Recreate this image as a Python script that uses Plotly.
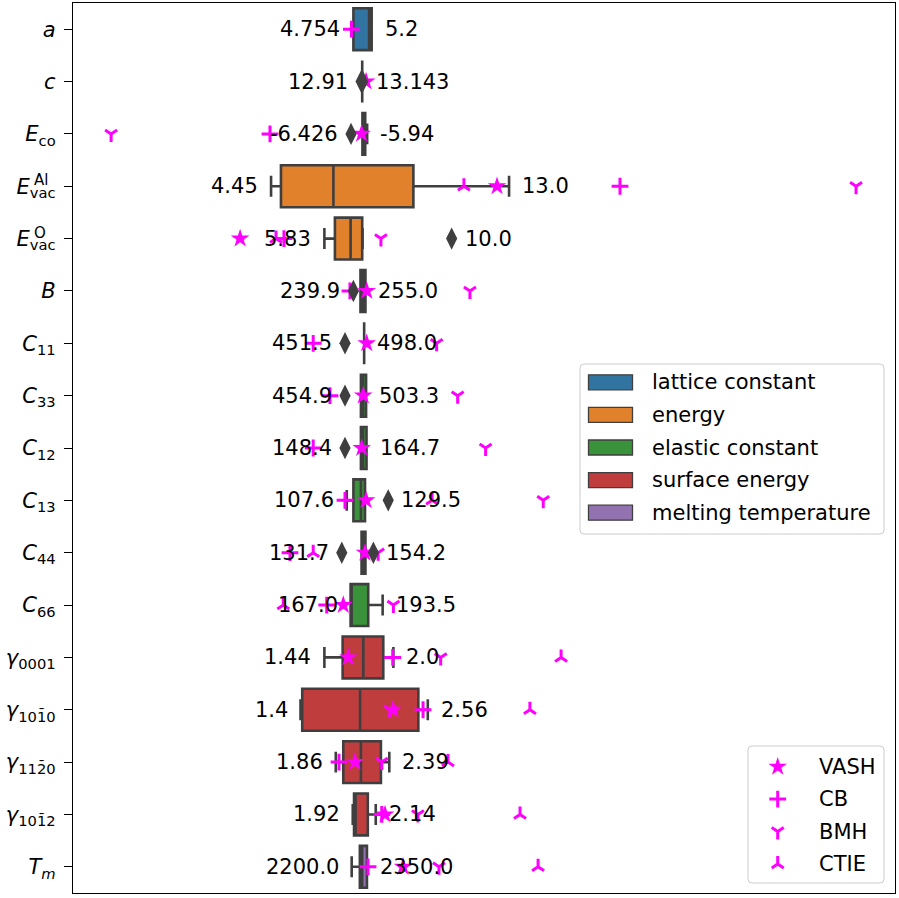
import plotly.graph_objects as go

# ---- rows (top to bottom) ---------------------------------------------------
tick_labels = [
    "<i>a</i>", "<i>c</i>", "<i>E</i><sub>co</sub>", "<i>E</i><sub>vac</sub>",
    "<i>E</i><sub>vac</sub>", "<i>B</i>", "<i>C</i><sub>11</sub>", "<i>C</i><sub>33</sub>",
    "<i>C</i><sub>12</sub>", "<i>C</i><sub>13</sub>", "<i>C</i><sub>44</sub>",
    "<i>C</i><sub>66</sub>", "<i>γ</i><sub>0001</sub>", "<i>γ</i><sub>101\u03040</sub>",
    "<i>γ</i><sub>112\u03040</sub>", "<i>γ</i><sub>101\u03042</sub>", "<i>T</i><sub><i>m</i></sub>",
]
superscripts = {3: "Al", 4: "O"}
groups = [
    "lattice constant", "lattice constant", "energy", "energy", "energy",
    "elastic constant", "elastic constant", "elastic constant", "elastic constant",
    "elastic constant", "elastic constant", "elastic constant",
    "surface energy", "surface energy", "surface energy", "surface energy",
    "melting temperature",
]
group_names = ["lattice constant", "energy", "elastic constant", "surface energy",
               "melting temperature"]
group_colors = ["#3274a1", "#e1812c", "#3a923a", "#c03d3e", "#9372b2"]

# ---- reference data: relative deviation from the reference value ------------
q1 = [-0.040, 0.001, 0.002, -0.377, -0.126, -0.007, 0.010, -0.005, -0.005, -0.040,
      -0.002, -0.053, -0.090, -0.278, -0.087, -0.037, -0.010]
median = [0.033, 0.001, 0.009, -0.133, -0.053, 0.005, 0.010, 0.005, 0.005, -0.005,
          0.005, -0.049, 0.006, -0.009, -0.005, -0.030, 0.001]
q3 = [0.045, 0.001, 0.015, 0.239, 0.001, 0.016, 0.010, 0.019, 0.021, 0.014,
      0.016, 0.029, 0.099, 0.262, 0.088, 0.027, 0.023]
lower = [-0.040, 0.001, 0.002, -0.423, -0.175, -0.007, 0.010, -0.005, -0.005, -0.071,
         -0.002, -0.053, -0.175, -0.286, -0.122, -0.043, -0.048]
upper = [0.045, 0.001, 0.024, 0.684, 0.003, 0.016, 0.010, 0.019, 0.021, 0.014,
         0.016, 0.096, 0.146, 0.306, 0.127, 0.064, 0.023]
outliers = [[], [-0.004, 0.003], [-0.051], [], [0.417], [-0.040], [-0.079], [-0.079],
            [-0.079], [0.122], [-0.094, 0.053], [], [], [], [], [], []]

# min / max of the reference values, in the property's own unit
min_labels = ["4.754", "12.91", "-6.426", "4.45", "5.83", "239.9", "451.5", "454.9",
              "148.4", "107.6", "131.7", "167.0", "1.44", "1.4", "1.86", "1.92", "2200.0"]
max_labels = ["5.2", "13.143", "-5.94", "13.0", "10.0", "255.0", "498.0", "503.3",
              "164.7", "129.5", "154.2", "193.5", "2.0", "2.56", "2.39", "2.14", "2350.0"]

# ---- interatomic potentials (relative deviation) ----------------------------
vash = [None, 0.019, -0.002, 0.628, -0.567, 0.022, 0.022, 0.006, -0.001, 0.019,
        0.014, -0.087, -0.064, 0.144, -0.033, 0.107, 0.191]
cb = [-0.049, None, -0.428, 1.200, -0.363, -0.056, -0.227, -0.149, -0.227, -0.079,
      -0.335, -0.164, 0.143, 0.284, -0.107, 0.092, 0.028]
bmh = [None, None, -1.167, 2.298, 0.088, 0.502, 0.347, 0.445, 0.575, 0.843,
       0.075, 0.146, 0.366, 0.130, 0.092, 0.260, 0.358]
ctie = [None, None, None, 0.474, -0.400, None, None, None, None, 0.326,
        -0.227, -0.366, 0.926, 0.781, 0.400, 0.735, 0.819]

potentials = [("VASH", vash, "star"), ("CB", cb, "cross-thin"),
              ("BMH", bmh, "y-down"), ("CTIE", ctie, "y-up")]

# ---- styling -----------------------------------------------------------------
FONT = "DejaVu Sans"
EDGE = "#3f3f3f"
MAGENTA = "#ff00ff"
FS = 21
W, H = 899, 898
PL, PR, PT, PB = 73, 895, 3, 893          # plot area in pixels
X_RANGE = [-1.3442, 2.4791]
n = len(tick_labels)
rows = list(range(n))
color_of = dict(zip(group_names, group_colors))


def marker_style(sym):
    if sym == "star":
        return dict(symbol=sym, size=14, color=MAGENTA, line=dict(width=0))
    if sym == "cross-thin":
        return dict(symbol=sym, size=12, color=MAGENTA, line=dict(width=3, color=MAGENTA))
    return dict(symbol=sym, size=10, color=MAGENTA, line=dict(width=3, color=MAGENTA))


fig = go.Figure()

# box fills (below the markers)
for i in rows:
    fig.add_trace(go.Box(
        y=[i], q1=[q1[i]], median=[median[i]], q3=[q3[i]],
        lowerfence=[lower[i]], upperfence=[upper[i]], orientation="h",
        width=0.8, fillcolor=color_of[groups[i]], line=dict(width=0, color="rgba(0,0,0,0)"),
        whiskerwidth=0.5, boxpoints=False, showlegend=False, hoverinfo="skip"))

# potential predictions
for name, vals, sym in potentials:
    xs = [v for v in vals if v is not None]
    ys = [i for i, v in zip(rows, vals) if v is not None]
    fig.add_trace(go.Scatter(x=xs, y=ys, mode="markers", marker=marker_style(sym), name=name,
                             showlegend=False, hoverinfo="skip"))

# box outlines, whiskers and medians (above the markers)
for i in rows:
    fig.add_trace(go.Box(
        y=[i], q1=[q1[i]], median=[median[i]], q3=[q3[i]],
        lowerfence=[lower[i]], upperfence=[upper[i]], orientation="h",
        width=0.8, fillcolor="rgba(0,0,0,0)", line=dict(width=2.6, color=EDGE),
        whiskerwidth=0.5, boxpoints=False, showlegend=False, hoverinfo="skip"))

# outliers
ox = [v for i in rows for v in outliers[i]]
oy = [i for i in rows for _ in outliers[i]]
fig.add_trace(go.Scatter(x=ox, y=oy, mode="markers", showlegend=False, hoverinfo="skip",
                         marker=dict(symbol="diamond-tall", size=16, color=EDGE,
                                     line=dict(width=0))))

annotations = []
# min / max value labels beside each box
for i in rows:
    lo = min([lower[i]] + outliers[i])
    hi = max([upper[i]] + outliers[i])
    annotations.append(dict(x=lo, y=i, xref="x", yref="y", text=min_labels[i],
                            xanchor="right", yanchor="middle", xshift=-11, showarrow=False,
                            font=dict(family=FONT, size=FS, color="black")))
    annotations.append(dict(x=hi, y=i, xref="x", yref="y", text=max_labels[i],
                            xanchor="left", yanchor="middle", xshift=11, showarrow=False,
                            font=dict(family=FONT, size=FS, color="black")))

# stacked superscripts of the vacancy energies
for i, sup in superscripts.items():
    annotations.append(dict(x=(32 - PL) / (PR - PL), y=i, xref="paper", yref="y",
                            text=sup, xanchor="left", yanchor="middle", yshift=6,
                            showarrow=False, font=dict(family=FONT, size=15, color="black")))

# ---- legends (drawn in pixel coordinates on an overlay axis pair) ------------
shapes = []


def rounded_box(x0, y0, x1, y1, r=4):
    return (f"M{x0 + r},{y0} L{x1 - r},{y0} Q{x1},{y0} {x1},{y0 + r} "
            f"L{x1},{y1 - r} Q{x1},{y1} {x1 - r},{y1} L{x0 + r},{y1} "
            f"Q{x0},{y1} {x0},{y1 - r} L{x0},{y0 + r} Q{x0},{y0} {x0 + r},{y0} Z")


legend_text = dict(family=FONT, size=FS, color="black")

# hue legend
shapes.append(dict(type="path", path=rounded_box(580, 364, 884, 534), xref="x2", yref="y2",
                   fillcolor="rgba(255,255,255,0.8)", line=dict(color="#cccccc", width=1),
                   layer="below"))
for k, (gname, gcol) in enumerate(zip(group_names, group_colors)):
    yc = 382.3 + k * 32.6
    shapes.append(dict(type="rect", x0=588.5, x1=632.5, y0=yc - 7.5, y1=yc + 7.5,
                       xref="x2", yref="y2", fillcolor=gcol,
                       line=dict(color=EDGE, width=1.3), layer="below"))
    annotations.append(dict(x=650, y=yc, xref="x2", yref="y2", text=gname,
                            xanchor="left", yanchor="middle", showarrow=False,
                            font=legend_text))

# marker legend
shapes.append(dict(type="path", path=rounded_box(748, 746, 884, 883), xref="x2", yref="y2",
                   fillcolor="rgba(255,255,255,0.8)", line=dict(color="#cccccc", width=1),
                   layer="below"))
leg_y = [766.7 + k * 32.4 for k in range(len(potentials))]
for k, (name, vals, sym) in enumerate(potentials):
    fig.add_trace(go.Scatter(x=[777.7], y=[leg_y[k]], xaxis="x2", yaxis="y2", mode="markers",
                             marker=marker_style(sym), showlegend=False, hoverinfo="skip"))
    annotations.append(dict(x=816.7, y=leg_y[k], xref="x2", yref="y2", text=name,
                            xanchor="left", yanchor="middle", showarrow=False,
                            font=legend_text))

fig.update_layout(
    width=W, height=H,
    margin=dict(l=PL, r=W - PR, t=PT, b=H - PB, pad=0),
    paper_bgcolor="white", plot_bgcolor="white",
    font=dict(family=FONT, size=FS, color="black"),
    showlegend=False, boxmode="overlay",
    xaxis=dict(range=X_RANGE, showticklabels=False, ticks="", showgrid=False,
               zeroline=False, showline=True, mirror=True, linecolor="black", linewidth=1.3),
    yaxis=dict(range=[n - 0.5, -0.5], tickmode="array", tickvals=rows, ticktext=tick_labels,
               ticks="outside", ticklen=8, tickwidth=1.3, tickcolor="black",
               ticklabelstandoff=4, showgrid=False, zeroline=False, showline=True,
               mirror=True, linecolor="black", linewidth=1.3,
               tickfont=dict(family=FONT, size=FS, color="black")),
    xaxis2=dict(overlaying="x", range=[PL, PR], visible=False, fixedrange=True),
    yaxis2=dict(overlaying="y", range=[PB, PT], visible=False, fixedrange=True),
    shapes=shapes, annotations=annotations,
)

fig.write_html("out.html")
